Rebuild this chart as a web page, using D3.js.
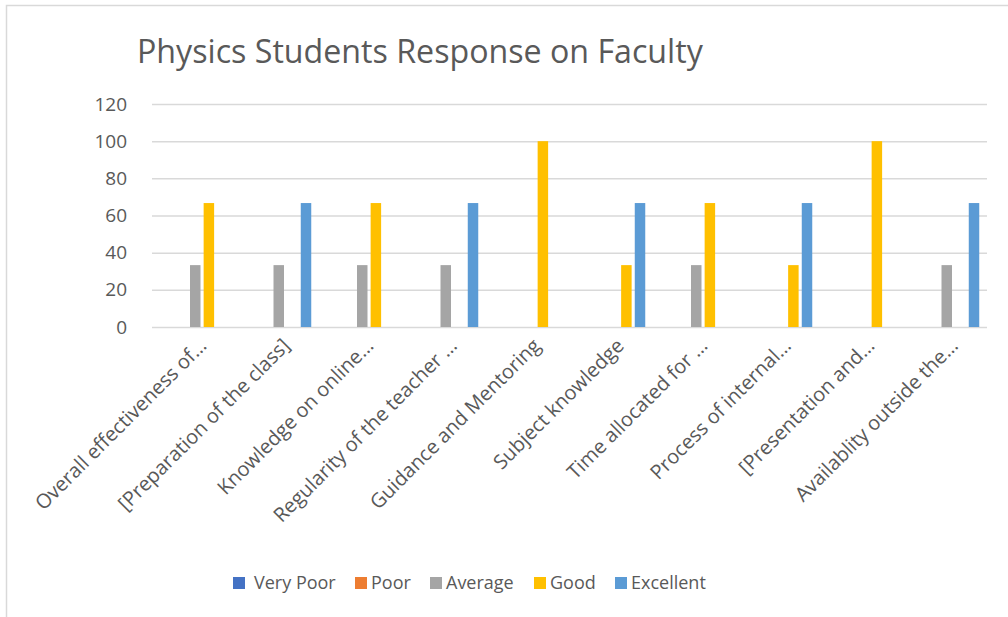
<!DOCTYPE html>
<html>
<head>
<meta charset="utf-8">
<script src="https://cdn.jsdelivr.net/npm/d3@7"></script>
<style>
  body { margin: 0; background: #fff; }
  svg { display: block; font-family: "Open Sans", sans-serif; }
</style>
</head>
<body>
<div id="chart"></div>
<script>
// ---------------- data ----------------
const categories = [
  "Overall effectiveness of…",
  "[Preparation of the class]",
  "Knowledge on online…",
  "Regularity of the teacher …",
  "Guidance and Mentoring",
  "Subject knowledge",
  "Time allocated for …",
  "Process of internal…",
  "[Presentation and…",
  "Availablity outside the…"
];
const seriesNames = ["Very Poor", "Poor", "Average", "Good", "Excellent"];
const seriesColors = ["#4472c4", "#ed7d31", "#a5a5a5", "#ffc000", "#5b9bd5"];

const veryPoor  = [0, 0, 0, 0, 0, 0, 0, 0, 0, 0];
const poor      = [0, 0, 0, 0, 0, 0, 0, 0, 0, 0];
const average   = [33.3, 33.3, 33.3, 33.3, 0, 0, 33.3, 0, 0, 33.3];
const good      = [66.7, 0, 66.7, 0, 100, 33.3, 66.7, 33.3, 100, 0];
const excellent = [0, 66.7, 0, 66.7, 0, 66.7, 0, 66.7, 0, 66.7];
const yTicks = [0, 20, 40, 60, 80, 100, 120];

const seriesValues = [veryPoor, poor, average, good, excellent];

//================ chart =================
const w = 1008;
const h = 617;
const textColor = "#595959";

const svg = d3.select("#chart").append("svg")
  .attr("width", w)
  .attr("height", h);

// outer chart border (runs off the right/bottom like the screenshot)
svg.append("rect")
  .attr("x", 6.5).attr("y", 5.5)
  .attr("width", w + 10).attr("height", h + 10)
  .attr("fill", "#fff")
  .attr("stroke", "#d9d9d9")
  .attr("stroke-width", 1.5);

// title, sized to match the original width
const title = svg.append("text")
  .attr("x", 137).attr("y", 63)
  .attr("fill", textColor)
  .attr("font-size", 30)
  .text("Physics Students Response on Faculty");
const tw = title.node().getComputedTextLength();
title.attr("font-size", 30 * 566 / tw);

const plot = { left: 152, right: 987, top: 104, bottom: 327 };

const x0 = d3.scaleBand()
  .domain(categories)
  .range([plot.left, plot.right])
  .paddingInner(0)
  .paddingOuter(0);

const slot = 13;
const x1 = d3.scaleBand()
  .domain(seriesNames)
  .range([0, slot * seriesNames.length])
  .paddingInner(3 / 13)
  .paddingOuter(0);

const y = d3.scaleLinear()
  .domain([0, 120])
  .range([plot.bottom, plot.top]);

// gridlines + y labels
const yAxisGen = d3.axisLeft(y)
  .tickValues(yTicks)
  .tickSize(-(plot.right - plot.left))
  .tickPadding(25)
  .tickFormat(d3.format("d"));

const yAxis = svg.append("g")
  .attr("transform", "translate(" + plot.left + ",0)")
  .call(yAxisGen);
yAxis.select(".domain").remove();
yAxis.selectAll(".tick line")
  .attr("stroke", "#d9d9d9")
  .attr("stroke-width", 1.5);
yAxis.selectAll(".tick text")
  .attr("fill", textColor)
  .attr("font-size", 19)
  .attr("font-family", "Open Sans, sans-serif");

// bars
const groups = svg.append("g").selectAll("g")
  .data(categories)
  .join("g")
  .attr("transform", d => "translate(" + (x0(d) + (x0.bandwidth() - slot * seriesNames.length + 3) / 2) + ",0)");

groups.selectAll("rect")
  .data((c, i) => seriesNames.map((s, j) => ({ s: s, v: seriesValues[j][i], color: seriesColors[j] })))
  .join("rect")
  .attr("x", d => x1(d.s))
  .attr("width", x1.bandwidth())
  .attr("y", d => y(d.v))
  .attr("height", d => y(0) - y(d.v))
  .attr("fill", d => d.color);

// x labels rotated 45deg
const xAxisGen = d3.axisBottom(x0).tickSize(0).tickPadding(0);
const xAxis = svg.append("g")
  .attr("transform", "translate(0," + plot.bottom + ")")
  .call(xAxisGen);
xAxis.select(".domain").remove();
xAxis.selectAll(".tick text")
  .attr("fill", textColor)
  .attr("font-size", 20)
  .attr("font-family", "Open Sans, sans-serif")
  .attr("text-anchor", "end")
  .attr("transform", "translate(9,15) rotate(-45)")
  .attr("dy", "0.35em")
  .attr("y", 0);

// legend
const legendX = [233, 355, 430, 534, 615];
const legend = svg.append("g").selectAll("g")
  .data(seriesNames)
  .join("g")
  .attr("transform", (d, i) => "translate(" + legendX[i] + ",577)");
legend.append("rect")
  .attr("width", 12).attr("height", 12)
  .attr("fill", (d, i) => seriesColors[i]);
legend.append("text")
  .attr("x", (d, i) => i === 0 ? 21 : 16)
  .attr("y", 6)
  .attr("dy", "0.36em")
  .attr("fill", textColor)
  .attr("font-size", 18)
  .text(d => d);
</script>
</body>
</html>
